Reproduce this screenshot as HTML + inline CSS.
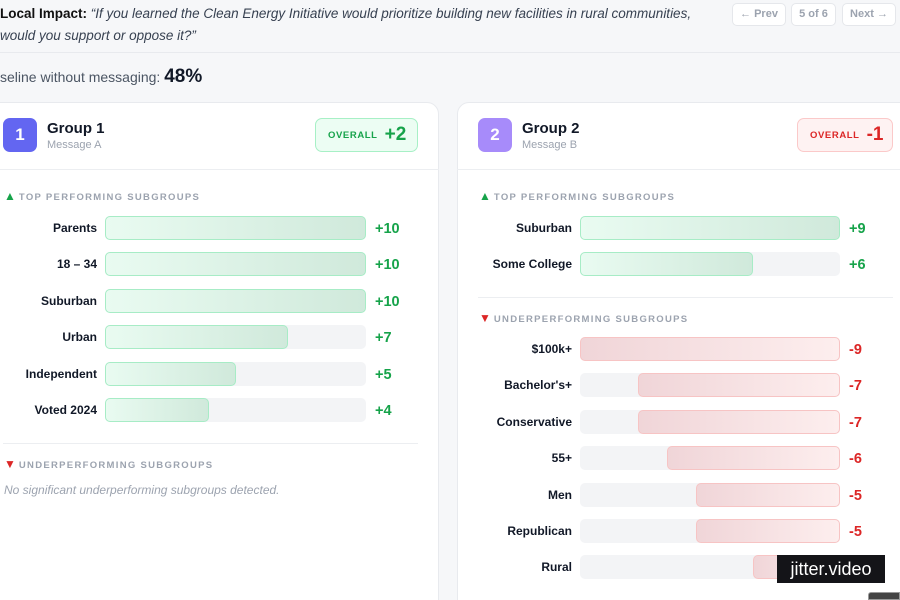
<!DOCTYPE html>
<html style="width:900px;height:600px;overflow:hidden"><head><meta charset="utf-8"><style>
*{box-sizing:border-box;margin:0;padding:0}
body{width:900px;height:600px;overflow:hidden;background:#f6f7f9;font-family:"Liberation Sans",sans-serif;position:relative;color:#111827}
.abs{position:absolute}
.q{left:0;top:3px;font-size:13.5px;line-height:22px;color:#374151;font-style:italic;width:720px}
.q b{font-style:normal;color:#111;font-weight:700}
.nav{top:3px;height:23px;border:1px solid #e5e7eb;border-radius:5px;background:#fff;font-size:11px;color:#9ca3af;font-weight:700;text-align:center;line-height:21px}
.panel{top:102px;background:#fff;border:1px solid #e8eaee;border-radius:12px;height:510px}
.hdr{border-bottom:1px solid #eceef1}
.badge{width:34px;height:34px;border-radius:7px;color:#fff;font-weight:700;font-size:17px;text-align:center;line-height:34px}
.gt{font-size:15px;font-weight:700;color:#111827}
.gs{font-size:11px;color:#9ca3af}
.ov{height:34px;border-radius:7px;font-size:9.5px;font-weight:700;letter-spacing:0.6px;line-height:32px;padding-left:12px;white-space:nowrap}
.ov span{font-size:19px;letter-spacing:0;margin-left:7px;vertical-align:-2px}
.sec{font-size:9.5px;letter-spacing:1.3px;color:#9ca3af;font-weight:700}
.sec span{font-size:12px;letter-spacing:0;margin-right:3px}
.lbl{font-size:12px;font-weight:700;text-align:right;width:150px;line-height:24px}
.track{height:24px;border-radius:5px;background:#f3f4f6}
.bar{height:24px;border-radius:5px}
.pos{background:linear-gradient(90deg,#e9fbf1,#d0e9db);border:1px solid #a7ecc6}
.neg{background:linear-gradient(90deg,#f0d5d8,#fdeeee);border:1px solid #f7c4c4}
.val{font-size:14.5px;font-weight:700;line-height:24px}
</style></head><body>
<div class="abs q"><b>Local Impact:</b> “If you learned the Clean Energy Initiative would prioritize building new facilities in rural communities, would you support or oppose it?”</div>
<div class="abs nav" style="left:732px;width:54px">← Prev</div>
<div class="abs nav" style="left:791px;width:45px">5 of 6</div>
<div class="abs nav" style="left:842px;width:54px">Next →</div>
<div class="abs" style="left:0;top:52px;width:900px;border-top:1px solid #e8eaee"></div>
<div class="abs" style="left:0;top:65px;font-size:14px;color:#4b5563;line-height:24px">seline without messaging: <b style="font-size:19px;color:#111827">48%</b></div>

<div class="abs panel" style="left:-12px;width:451px"></div>
<div class="abs panel" style="left:457px;width:460px"></div>
<div class="abs hdr" style="left:-12px;top:169px;width:451px"></div>
<div class="abs hdr" style="left:457px;top:169px;width:443px"></div>

<div class="abs badge" style="left:3px;top:118px;background:#6366f1">1</div>
<div class="abs gt" style="left:47px;top:120px">Group 1</div>
<div class="abs gs" style="left:47px;top:139px">Message A</div>
<div class="abs ov" style="left:315px;top:118px;width:103px;background:#ecfdf3;border:1px solid #a7f0c6;color:#16a34a">OVERALL<span>+2</span></div>

<div class="abs badge" style="left:478px;top:118px;background:#a78bfa">2</div>
<div class="abs gt" style="left:522px;top:120px">Group 2</div>
<div class="abs gs" style="left:522px;top:139px">Message B</div>
<div class="abs ov" style="left:797px;top:118px;width:96px;background:#fef2f2;border:1px solid #fbc9c9;color:#dc2626">OVERALL<span>-1</span></div>

<div class="abs sec" style="left:4px;top:189px"><span style="color:#16a34a">▲</span>TOP PERFORMING SUBGROUPS</div>
<div class="abs sec" style="left:479px;top:189px"><span style="color:#16a34a">▲</span>TOP PERFORMING SUBGROUPS</div>
<div class="abs" style="left:3px;top:443px;width:415px;border-top:1px solid #eceef1"></div>
<div class="abs sec" style="left:4px;top:457px"><span style="color:#dc2626">▼</span>UNDERPERFORMING SUBGROUPS</div>
<div class="abs" style="left:4px;top:483px;font-size:12px;font-style:italic;color:#9ca3af">No significant underperforming subgroups detected.</div>
<div class="abs" style="left:478px;top:297px;width:415px;border-top:1px solid #eceef1"></div>
<div class="abs sec" style="left:479px;top:311px"><span style="color:#dc2626">▼</span>UNDERPERFORMING SUBGROUPS</div>

<div id="charts"></div>
<div class="abs" style="left:777px;top:555px;width:108px;height:28px;background:#141418;color:#fff;font-size:18px;line-height:28px;text-align:center">jitter.video</div>
<div class="abs" style="left:868px;top:592px;width:32px;height:8px;background:#444;border:1px solid #999;border-radius:3px 0 0 0"></div>

<script>
const g1TopLabels=["Parents","18 – 34","Suburban","Urban","Independent","Voted 2024"];
const g1TopValues=[10,10,10,7,5,4];
const g2TopLabels=["Suburban","Some College"];
const g2TopValues=[9,6];
const g2UnderLabels=["$100k+","Bachelor's+","Conservative","55+","Men","Republican","Rural"];
const g2UnderValues=[-9,-7,-7,-6,-5,-5,-3];

const root=document.getElementById('charts');
function mk(cls,style,text){const d=document.createElement('div');d.className='abs '+cls;d.setAttribute('style',style);if(text!=null)d.textContent=text;root.appendChild(d);return d;}
function drawRows(labels,values,x0,w,y0,maxAbs,prefix){
  const step=36.4;
  labels.forEach((lab,i)=>{
    const y=y0+i*step;
    const v=values[i];
    const l=mk('lbl','left:'+(x0-158)+'px;top:'+y+'px',lab);
    
    
    const t=mk('track','left:'+x0+'px;top:'+y+'px;width:'+w+'px');
    
    
    const bw=Math.abs(v)/maxAbs*w;
    const bx=v>=0?x0:x0+w-bw;
    const b=mk('bar '+(v>=0?'pos':'neg'),'left:'+bx+'px;top:'+y+'px;width:'+bw+'px');
    
    
    const t2=mk('val','left:'+(x0+w+9)+'px;top:'+(y+1)+'px;color:'+(v>=0?'#16a34a':'#dc2626'),(v>0?'+':'')+v);
    
    
  });
}
const m1=Math.max(...g1TopValues.map(Math.abs));
const m2=Math.max(...g2TopValues.concat(g2UnderValues).map(Math.abs));
drawRows(g1TopLabels,g1TopValues,105,261,216,m1,'group-1-top');
drawRows(g2TopLabels,g2TopValues,580,260,216,m2,'group-2-top');
drawRows(g2UnderLabels,g2UnderValues,580,260,337,m2,'group-2-under');
</script>
</body></html>
